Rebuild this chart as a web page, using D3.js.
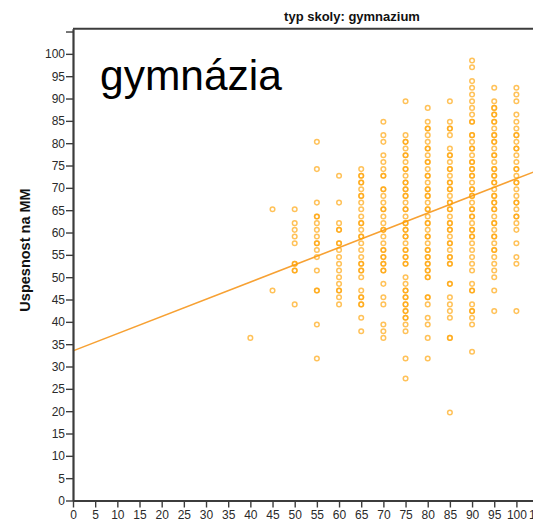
<!DOCTYPE html>
<html>
<head>
<meta charset="utf-8">
<script src="https://cdn.jsdelivr.net/npm/d3@7"></script>
<style>
  html, body { margin: 0; padding: 0; background: #fff; }
  svg { display: block; }
  text { font-family: "Liberation Sans", Arial, sans-serif; }
</style>
</head>
<body>
<svg id="chart" width="533" height="525"></svg>
<script>
// ---- data (x = school grade bucket, y = Uspesnost na MM) ----
const panelTitle = "typ skoly: gymnazium";
const yAxisLabel = "Uspesnost na MM";
const overlayLabel = "gymnázia";
const xTickValues = [0,5,10,15,20,25,30,35,40,45,50,55,60,65,70,75,80,85,90,95,100,105];
const yTickValues = [0,5,10,15,20,25,30,35,40,45,50,55,60,65,70,75,80,85,90,95,100,105];
const yTickLabels = ["0","5","10","15","20","25","30","35","40","45","50","55","60","65","70","75","80","85","90","95","100",""];

const col40 = [36.4];
const col45 = [65.2, 47.0];
const col50 = [65.2, 62.1, 60.6, 59.1, 57.6, 53.0, 53.0, 51.5, 51.5, 43.9];
const col55 = [80.3, 74.2, 66.7, 63.6, 63.6, 62.1, 60.6, 59.1, 57.6, 57.6, 56.1, 54.5, 51.5, 47.0, 47.0, 39.4, 31.8];
const col60 = [72.7, 66.7, 62.1, 60.6, 60.6, 57.6, 57.6, 56.1, 54.5, 53.0, 51.5, 50.0, 48.5, 47.0, 47.0, 45.5, 43.9];
const col65 = [74.2, 72.7, 72.7, 71.2, 71.2, 69.7, 68.2, 68.2, 66.7, 65.2, 63.6, 62.1, 62.1, 60.6, 59.1, 59.1, 57.6, 56.1, 54.5, 53.0, 53.0, 51.5, 51.5, 50.0, 47.0, 45.5, 45.5, 43.9, 43.9, 40.9, 37.9];
const col70 = [84.8, 81.8, 80.3, 77.3, 75.8, 74.2, 72.7, 72.7, 69.7, 69.7, 68.2, 66.7, 65.2, 65.2, 63.6, 62.1, 60.6, 60.6, 59.1, 57.6, 56.1, 56.1, 54.5, 54.5, 53.0, 53.0, 51.5, 51.5, 48.5, 45.5, 43.9, 39.4, 37.9, 36.4];
const col75 = [89.4, 81.8, 80.3, 80.3, 78.8, 77.3, 77.3, 75.8, 74.2, 74.2, 72.7, 71.2, 71.2, 69.7, 69.7, 68.2, 68.2, 66.7, 65.2, 65.2, 63.6, 62.1, 62.1, 60.6, 60.6, 59.1, 59.1, 57.6, 56.1, 56.1, 54.5, 54.5, 53.0, 53.0, 50.0, 48.5, 47.0, 47.0, 45.5, 45.5, 43.9, 43.9, 42.4, 42.4, 40.9, 40.9, 39.4, 37.9, 31.8, 27.3];
const col80 = [87.9, 84.8, 83.3, 83.3, 81.8, 80.3, 78.8, 78.8, 77.3, 75.8, 75.8, 74.2, 72.7, 72.7, 71.2, 69.7, 69.7, 68.2, 68.2, 66.7, 65.2, 65.2, 63.6, 62.1, 62.1, 60.6, 59.1, 59.1, 57.6, 56.1, 56.1, 54.5, 54.5, 53.0, 53.0, 51.5, 51.5, 50.0, 50.0, 45.5, 45.5, 43.9, 40.9, 39.4, 36.4, 31.8];
const col85 = [89.4, 84.8, 83.3, 83.3, 81.8, 78.8, 77.3, 77.3, 75.8, 74.2, 74.2, 72.7, 71.2, 71.2, 69.7, 69.7, 68.2, 66.7, 66.7, 65.2, 65.2, 63.6, 62.1, 62.1, 60.6, 60.6, 59.1, 57.6, 57.6, 56.1, 54.5, 54.5, 53.0, 53.0, 48.5, 48.5, 45.5, 43.9, 42.4, 40.9, 36.4, 36.4, 19.7];
const col90 = [98.5, 97.0, 93.9, 92.4, 90.9, 89.4, 87.9, 86.4, 84.8, 84.8, 81.8, 81.8, 80.3, 78.8, 78.8, 77.3, 75.8, 75.8, 74.2, 74.2, 72.7, 72.7, 71.2, 69.7, 69.7, 68.2, 68.2, 66.7, 65.2, 65.2, 63.6, 63.6, 62.1, 60.6, 60.6, 59.1, 59.1, 57.6, 56.1, 54.5, 53.0, 51.5, 48.5, 47.0, 47.0, 43.9, 42.4, 42.4, 40.9, 39.4, 33.3];
const col95 = [92.4, 89.4, 87.9, 87.9, 86.4, 86.4, 84.8, 84.8, 83.3, 81.8, 81.8, 80.3, 80.3, 78.8, 77.3, 77.3, 75.8, 74.2, 74.2, 72.7, 72.7, 71.2, 71.2, 69.7, 68.2, 68.2, 66.7, 66.7, 65.2, 65.2, 63.6, 62.1, 62.1, 60.6, 59.1, 59.1, 57.6, 56.1, 56.1, 54.5, 53.0, 51.5, 50.0, 47.0, 42.4];
const col100 = [92.4, 90.9, 89.4, 86.4, 84.8, 83.3, 81.8, 81.8, 80.3, 78.8, 78.8, 77.3, 75.8, 74.2, 74.2, 72.7, 71.2, 71.2, 69.7, 68.2, 66.7, 66.7, 65.2, 63.6, 63.6, 62.1, 60.6, 57.6, 54.5, 53.0, 42.4];

const columns = [
  {x: 40, ys: col40}, {x: 45, ys: col45}, {x: 50, ys: col50}, {x: 55, ys: col55},
  {x: 60, ys: col60}, {x: 65, ys: col65}, {x: 70, ys: col70}, {x: 75, ys: col75},
  {x: 80, ys: col80}, {x: 85, ys: col85}, {x: 90, ys: col90}, {x: 95, ys: col95},
  {x: 100, ys: col100}
];
// fitted regression line
const fitLine = [{x: 0, y: 33.5}, {x: 110, y: 75.9}];

// ---- drawing ----
const svg = d3.select("#chart");
const x = d3.scaleLinear().domain([0, 110]).range([73, 73 + 4.434 * 110]);
const y = d3.scaleLinear().domain([0, 105.6]).range([500.5, 500.5 - 4.4665 * 105.6]);
const axisColor = "#3c3c3c";

const points = [];
columns.forEach(c => c.ys.forEach(v => points.push({x: c.x, y: v})));

// regression line
svg.append("path")
  .datum(fitLine)
  .attr("fill", "none")
  .attr("stroke", "#f7a133")
  .attr("stroke-width", 1.6)
  .attr("d", d3.line().x(d => x(d.x)).y(d => y(d.y)));

// points
svg.append("g").selectAll("circle").data(points).join("circle")
  .attr("cx", d => x(d.x))
  .attr("cy", d => y(d.y))
  .attr("r", 2.3)
  .attr("fill", "none")
  .attr("stroke", "#ffa200")
  .attr("stroke-opacity", 0.65)
  .attr("stroke-width", 1.5);

// top frame
svg.append("line")
  .attr("x1", x(0)).attr("x2", 533)
  .attr("y1", y(105.6)).attr("y2", y(105.6))
  .attr("stroke", axisColor).attr("stroke-width", 2);

// y axis
const yAxis = svg.append("g")
  .attr("transform", `translate(${x(0)},0)`)
  .call(d3.axisLeft(y).tickValues(yTickValues).tickSize(7).tickSizeOuter(0).tickPadding(1)
    .tickFormat((d, i) => yTickLabels[i]));
yAxis.select(".domain").attr("stroke", axisColor).attr("stroke-width", 2.2);
yAxis.selectAll(".tick line").attr("stroke", axisColor).attr("stroke-width", 1.4);
yAxis.selectAll(".tick text").attr("fill", "#2a2a2a").attr("font-size", 12)
  .attr("font-family", "'Liberation Sans', Arial, sans-serif");

// x axis
const xAxis = svg.append("g")
  .attr("transform", `translate(0,${y(0)})`)
  .call(d3.axisBottom(x).tickValues(xTickValues).tickSize(7).tickSizeOuter(0).tickPadding(3)
    .tickFormat(d3.format("d")));
xAxis.select(".domain").attr("stroke", axisColor).attr("stroke-width", 2.2);
xAxis.selectAll(".tick line").attr("stroke", axisColor).attr("stroke-width", 1.4);
xAxis.selectAll(".tick text").attr("fill", "#2a2a2a").attr("font-size", 12)
  .attr("font-family", "'Liberation Sans', Arial, sans-serif");

// panel title
svg.append("text")
  .attr("x", 352).attr("y", 21)
  .attr("text-anchor", "middle")
  .attr("font-size", 13).attr("font-weight", "bold").attr("fill", "#111")
  .text(panelTitle);

// y axis title
svg.append("text")
  .attr("transform", "translate(30,250) rotate(-90)")
  .attr("text-anchor", "middle")
  .attr("font-size", 14.5).attr("font-weight", "bold").attr("fill", "#111")
  .text(yAxisLabel);

// overlay label
svg.append("text")
  .attr("x", 100).attr("y", 90)
  .attr("font-family", "'Open Sans', 'Noto Sans', sans-serif")
  .attr("font-size", 42.5).attr("fill", "#000")
  .text(overlayLabel);
</script>
</body>
</html>
